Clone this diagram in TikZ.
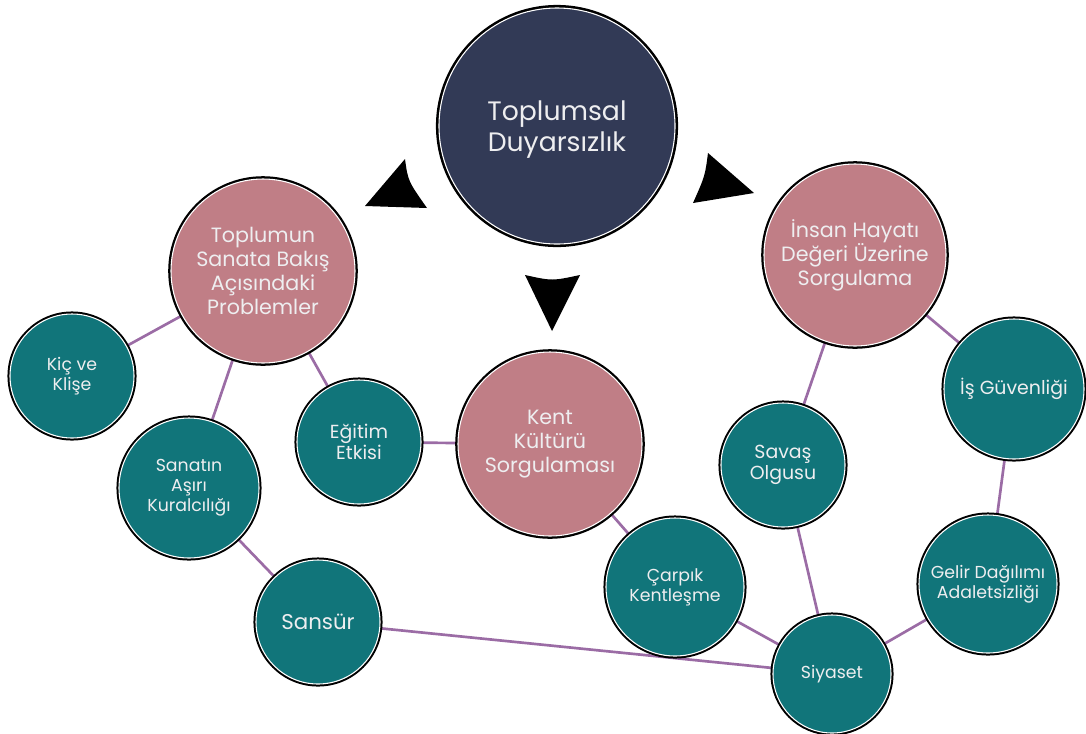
\documentclass[tikz,border=0pt]{standalone}
\usepackage{fontspec}
\setmainfont{Poppins}
\usetikzlibrary{backgrounds}
\definecolor{hubnavy}{RGB}{50,58,86}
\definecolor{themerose}{RGB}{192,126,134}
\definecolor{leafteal}{RGB}{17,117,122}
\definecolor{linkplum}{RGB}{155,108,165}
\definecolor{softwhite}{RGB}{238,238,240}

\tikzset{
    hub/.style={circle, inner sep=0pt, align=center, text=softwhite, fill=hubnavy,
        draw=white, line width=0.8pt, preaction={draw=black, line width=4.6pt},
        minimum size=#1*0.75pt, font=\fontsize{20}{23}\selectfont},
    theme/.style={circle, inner sep=0pt, align=center, text=softwhite, fill=themerose,
        draw=white, line width=0.8pt, preaction={draw=black, line width=4.2pt},
        minimum size=#1*0.75pt, font=\fontsize{15.5}{18}\selectfont},
    leaf/.style={circle, inner sep=0pt, align=center, text=softwhite, fill=leafteal,
        draw=white, line width=0.8pt, preaction={draw=black, line width=3.8pt},
        minimum size=#1*0.75pt, font=\fontsize{13}{15}\selectfont},
    bigleaf/.style={leaf=#1, font=\fontsize{14.2}{16}\selectfont},
    link/.style={draw=linkplum, line width=2pt},
    pointer/.style={fill=black}
}

\begin{document}
\begin{tikzpicture}[x=0.75pt, y=-0.75pt]
    \useasboundingbox (0,0) rectangle (1086,733);

    % Central topic
    \node[hub=236, text depth=-6pt] (hub) at (557,126) {Toplumsal\\Duyarsızlık};

    % Pointers out of the central topic
    \fill[pointer] (405,159) -- (365,206) -- (427,208) .. controls (408,181) .. cycle;
    \fill[pointer] (708,153) -- (754,193) -- (693,203) .. controls (705,176) .. cycle;
    \fill[pointer] (525,275) .. controls (552,281) .. (580,275) -- (552,331) -- cycle;

    % Main themes
    \node[theme=184] (sanat) at (263,271) {Toplumun\\Sanata Bakış\\Açısındaki\\Problemler};
    \node[theme=184] (kent) at (550,444) {Kent\\Kültürü\\Sorgulaması};
    \node[theme=182] (insan) at (855,255) {İnsan Hayatı\\Değeri Üzerine\\Sorgulama};

    % Sub topics
    \node[leaf=124] (kic) at (72,376) {Kiç ve\\Klişe};
    \node[leaf=140] (kural) at (189,488) {Sanatın\\Aşırı\\Kuralcılığı};
    \node[bigleaf=124] (egitim) at (359,442) {Eğitim\\Etkisi};
    \node[leaf=124, font=\fontsize{16}{18}\selectfont] (sansur) at (318,622) {Sansür};
    \node[leaf=138] (carpik) at (675,587) {Çarpık\\Kentleşme};
    \node[bigleaf=124] (savas) at (783,465) {Savaş\\Olgusu};
    \node[bigleaf=140] (isg) at (1014,389) {İş Güvenliği};
    \node[leaf=138] (gelir) at (988,584) {Gelir Dağılımı\\Adaletsizliği};
    \node[leaf=118] (siyaset) at (832,674) {Siyaset};

    % Connections
    \begin{scope}[on background layer]
        \foreach \from/\to in {sanat/kic, sanat/kural, sanat/egitim, egitim/kent,
            kural/sansur, sansur/siyaset, kent/carpik, carpik/siyaset, insan/savas,
            insan/isg, isg/gelir, gelir/siyaset, savas/siyaset} {
            \draw[link] (\from) -- (\to);
        }
    \end{scope}
\end{tikzpicture}
\end{document}
